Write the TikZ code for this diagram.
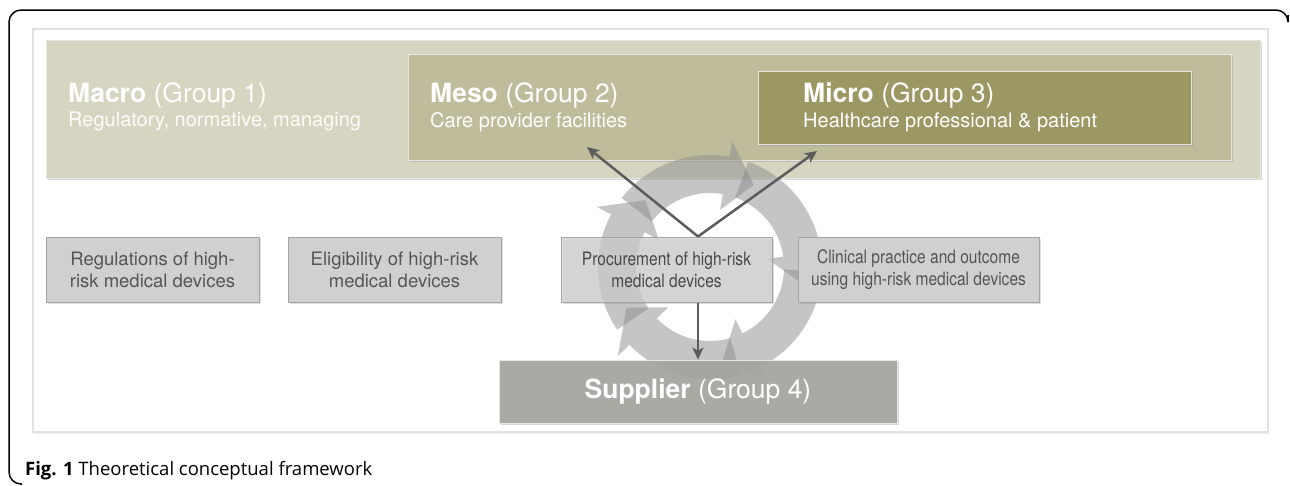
\documentclass[tikz,border=0pt]{standalone}
\usepackage{fontspec}
\setmainfont{TeX Gyre Heros}
\newfontfamily\capfont{Open Sans}
\newfontfamily\narrowfont{TeX Gyre Heros}[FakeStretch=0.84]
\usetikzlibrary{shadows}
\usetikzlibrary{arrows.meta}
\definecolor{framegray}{HTML}{E2E2E2}
\definecolor{macrofill}{HTML}{D6D5C1}
\definecolor{mesofill}{HTML}{BFBC9B}
\definecolor{microfill}{HTML}{9C9864}
\definecolor{stepfill}{HTML}{D0D0D0}
\definecolor{stepline}{HTML}{A3A3A3}
\definecolor{steptext}{HTML}{555555}
\definecolor{suppfill}{HTML}{A6A49E}
\definecolor{arrowgray}{HTML}{5C5C5C}
\tikzstyle{level}=[draw=white!90!black,line width=0.8pt,inner sep=0pt,drop shadow={shadow xshift=1.5pt,shadow yshift=-2pt,opacity=0.3}]
\tikzstyle{stepbox}=[draw=stepline,fill=stepfill,line width=1pt,minimum height=65pt,inner sep=0pt,align=center,text=steptext,font=\fontsize{18.5}{22}\selectfont,drop shadow={shadow xshift=1.5pt,shadow yshift=-2pt,opacity=0.25}]
\tikzstyle{narrow}=[font=\narrowfont\fontsize{18.5}{22}\selectfont]
\tikzstyle{title}=[anchor=base west,inner sep=0pt,text=white,font=\fontsize{26.5}{28}\selectfont]
\tikzstyle{subtitle}=[anchor=base west,inner sep=0pt,text=white,font=\fontsize{20}{24}\selectfont]
\tikzstyle{link}=[-{Stealth[length=12pt,width=11pt,inset=3pt]},draw=arrowgray,fill=arrowgray,line width=2.5pt]
\tikzstyle{cyclepart}=[fill=black!45,fill opacity=0.5]
% one clockwise piece of the cycle: #1 tail angle, #2 tip angle
\newcommand{\cyclearrow}[2]{%
  \fill[cyclepart] (#1:112) arc[start angle=#1, end angle=#2+18, radius=112]
    -- (#2+18:128) -- (#2:93) -- (#2+18:58) -- (#2+18:74)
    arc[start angle=#2+18, end angle=#1, radius=74] -- cycle;}

\begin{document}
\begin{tikzpicture}[x=1pt,y=-1pt]
      \useasboundingbox (0,0) rectangle (1290,485);
      % frame of the figure
      \draw[line width=1.5pt,rounded corners=12pt] (1288,15) -- (1288,10) -- (9,10) -- (9,484) -- (22,484);
      \draw[draw=framegray,fill=white,line width=2.5pt,drop shadow={shadow xshift=1pt,shadow yshift=-1.5pt,opacity=0.15}] (33,29) rectangle (1268,432);
      % the three levels
      \node[level,fill=macrofill,minimum width=1214pt,minimum height=138pt] at (653,109) (macro) {};
      \node[level,fill=mesofill,minimum width=823pt,minimum height=106pt] at (819.5,107) (meso) {};
      \node[level,fill=microfill,minimum width=433pt,minimum height=73pt] at (974.5,107.5) (micro) {};
      \node[title] at (68,102) (macroT) {\textbf{Macro} (Group 1)};
      \node[subtitle,text=white!92!macrofill] at (68,126) (macroS) {Regulatory, normative, managing};
      \node[title] at (430,102) (mesoT) {\textbf{Meso} (Group 2)};
      \node[subtitle] at (430,127) (mesoS) {Care provider facilities};
      \node[title] at (803,102) (microT) {\textbf{Micro} (Group 3)};
      \node[subtitle] at (803,127) (microS) {Healthcare professional \& patient};
      % cycle behind the steps
      \begin{scope}[shift={(710,267)},yscale=-1]
        \cyclearrow{142}{62}
        \cyclearrow{70}{-10}
        \cyclearrow{-2}{-82}
        \cyclearrow{-74}{-154}
        \cyclearrow{-146}{-226}
      \end{scope}
      % steps
      \node[stepbox,minimum width=213pt] at (152.5,269.5) (reg) {Regulations of high-\\risk medical devices};
      \node[stepbox,minimum width=213pt] at (394.5,269.5) (elig) {Eligibility of high-risk\\medical devices};
      \node[stepbox,narrow,minimum width=211pt,fill opacity=0.72,text opacity=1,text=steptext!85!black] at (666.5,269.5) (proc) {Procurement of high-risk\\medical devices};
      \node[stepbox,narrow,minimum width=241pt] at (918.5,269.5) (clin) {Clinical practice and outcome\\using high-risk medical devices};
      \node[level,fill=suppfill,fill opacity=0.9,text opacity=1,minimum width=398pt,minimum height=63pt,text=white,font=\fontsize{26.5}{28}\selectfont] at (698,391.5) (supp) {\textbf{Supplier} (Group 4)};
      % arrows
      \coordinate (apex) at (supp.north |- proc.north);
      \coordinate (mesoend) at (587,147);
      \coordinate (microend) at (817,151);
      \draw[link] (apex) -- (mesoend);
      \draw[link] (apex) -- (microend);
      \draw[link] (apex |- proc.south) -- (supp.north);
      % caption
      \node[anchor=base west,inner sep=0pt,font=\capfont\fontsize{18.5}{20}\selectfont] at (25,475) (cap) {\textbf{Fig. 1} Theoretical conceptual framework};
    \end{tikzpicture}
\end{document}
